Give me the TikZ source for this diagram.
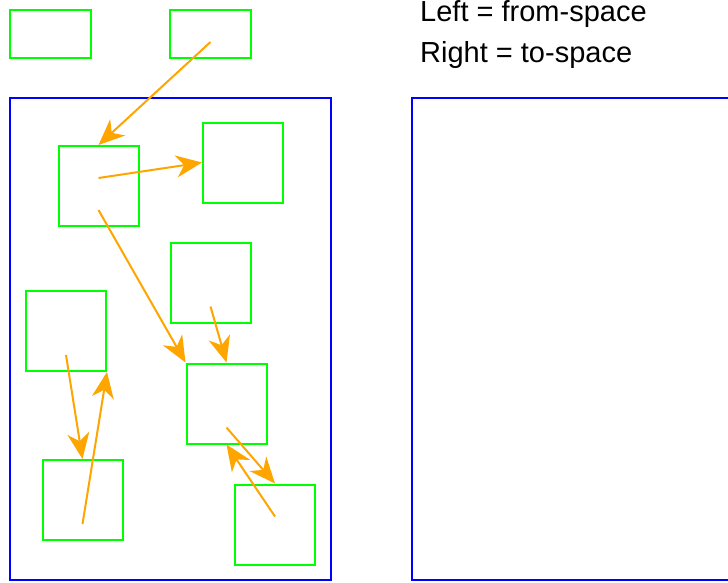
\documentclass[tikz,border=0pt]{standalone}
\usepackage{fontspec}
\setmainfont{Liberation Sans}
\usetikzlibrary{arrows.meta}
\definecolor{ptrorange}{RGB}{255,165,0}

\begin{document}
\begin{tikzpicture}[
  x=1pt, y=-1pt,
  obj/.style={draw=green, line width=2pt, minimum width=80pt, minimum height=80pt, inner sep=0pt},
  root/.style={obj, minimum width=81pt, minimum height=48pt},
  space/.style={draw=blue, line width=2pt, inner sep=0pt, minimum height=482pt},
  ptr/.style={draw=ptrorange, line width=2pt, -{Stealth[length=26pt 0, width=22pt 0, inset=8pt 0]}},
  legend/.style={anchor=base west, inner sep=0pt, font=\fontsize{29}{35}\selectfont}
]
  \useasboundingbox (0,0) rectangle (728,582);
  \node[space, minimum width=321pt] (fromspace) at (170.5,339) {};
  \node[space, minimum width=328pt] (tospace) at (576,339) {};
  \node[root] (rootL) at (50.5,34) {};
  \node[root] (rootR) at (210.5,34) {};
  \node[obj] (a) at (98.5,186) {};
  \node[obj] (b) at (243,162.5) {};
  \node[obj] (c) at (210.5,282.5) {};
  \node[obj] (d) at (66,331) {};
  \node[obj] (e) at (226.5,403.5) {};
  \node[obj] (f) at (82.5,500) {};
  \node[obj] (g) at (275,524.5) {};
  \draw[ptr] ([yshift=-8pt]rootR.center) -- (a.north);
  \draw[ptr] ([yshift=8pt]a.center) -- (b.west);
  \draw[ptr] ([yshift=-24pt]a.center) -- (e.north west);
  \draw[ptr] ([yshift=-24pt]c.center) -- (e.north);
  \draw[ptr] ([yshift=-24pt]d.center) -- (f.north);
  \draw[ptr] ([yshift=-24pt]f.center) -- (d.south east);
  \draw[ptr] ([yshift=-24pt]e.center) -- (g.north);
  \draw[ptr] ([yshift=8pt]g.center) -- (e.south);
  \node[legend] (legendL) at (420,21.7) {Left = from-space};
  \node[legend] (legendR) at (420,62.7) {Right = to-space};
\end{tikzpicture}
\end{document}
